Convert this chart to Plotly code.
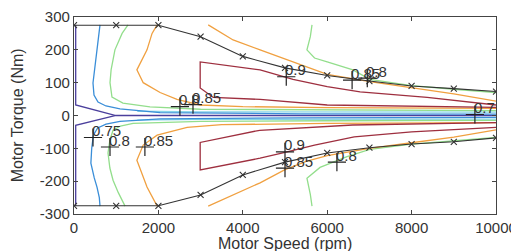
import plotly.graph_objects as go

# ---- data ----
speed_env = [0, 1000, 2000, 3000, 4000, 5000, 6000, 7000, 8000, 9000, 10000]
torque_env_up = [275, 275, 275, 240, 180, 145, 122, 105, 90, 82, 73]
torque_env_dn = [-275, -275, -275, -242, -181, -142, -114, -98, -87, -80, -68]

# contour lines (speed, torque), one list pair per branch
c070_up_x = [40, 40, 970, 10000]
c070_up_y = [276, 32, 0.6, 0.6]
c070_dn_x = [40, 40, 970, 10000]
c070_dn_y = [-276, -30, -0.6, -0.6]

c075_up_x = [616, 569, 521, 470, 450, 474, 569, 758, 1090, 2040, 5360, 10000]
c075_up_y = [276, 230, 169, 120, 99, 62, 41, 29, 20, 9, 5, 4]
c075_dn_x = [616, 600, 545, 480, 400, 420, 460, 560, 760, 1090, 2040, 5360, 10000]
c075_dn_y = [-276, -250, -218, -190, -145, -100, -60, -38, -26, -18, -10, -7, -6]

c077_up_x = [1500, 3000, 10000]
c077_up_y = [13, 11, 10]
c077_dn_x = [1500, 3000, 10000]
c077_dn_y = [-14, -12, -11]

c080_upl_x = [1280, 1140, 970, 880, 853, 900, 1160, 1800, 3000, 6000, 10000]
c080_upl_y = [276, 250, 200, 140, 100, 56, 38, 26, 19, 17, 15]
c080_upr_x = [5640, 5600, 5520, 5700, 6000, 6610, 7010, 8000, 9000, 10000]
c080_upr_y = [276, 240, 200, 175, 163, 139, 110, 91, 80, 70]
c080_dnl_x = [1210, 1050, 925, 850, 806, 850, 925, 1100, 1400, 3000, 6000, 10000]
c080_dnl_y = [-276, -235, -197, -160, -114, -75, -45, -32, -24, -18, -16, -15]
c080_dnr_x = [5640, 5600, 5520, 5830, 6470, 7010, 8000, 9000, 10000]
c080_dnr_y = [-276, -240, -191, -158, -125, -103, -87, -78, -67]

c085_upl_x = [1970, 1850, 1730, 1490, 1640, 2040, 2440, 2990, 4000, 6000, 10000]
c085_upl_y = [276, 250, 200, 139, 100, 70, 49, 32, 27, 24, 22]
c085_upr_x = [3180, 3770, 4410, 5190, 6000, 7010, 8000, 9000, 10000]
c085_upr_y = [276, 230, 200, 163, 125, 103, 84, 66, 44]
c085_dnl_x = [1970, 1850, 1730, 1490, 1640, 1970, 2680, 3500, 6000, 10000]
c085_dnl_y = [-276, -245, -218, -136, -90, -60, -36, -28, -24, -22]
c085_dnr_x = [3180, 3770, 4410, 5000, 5500, 6000, 7000, 8000, 9000, 10000]
c085_dnr_y = [-276, -242, -205, -165, -140, -122, -100, -83, -66, -44]

c090_up_x = [10000, 6000, 4410, 3300, 2990, 2990, 4410, 5190, 6000, 6780, 8370, 10000]
c090_up_y = [25, 32, 49, 55, 84, 163, 139, 110, 88, 72, 55, 32]
c090_dn_x = [10000, 6600, 4400, 3300, 2990, 2990, 4410, 5000, 5700, 6640, 8000, 10000]
c090_dn_y = [-22, -29, -45, -75, -82, -166, -130, -112, -90, -65, -50, -36]

label_text = ["0.75", "0.8", "0.85", "0.8", "0.85", "0.9", "0.85", "0.8", "0.7", "0.9", "0.85", "0.8"]
label_x = [450, 853, 1680, 2510, 2820, 5030, 6590, 6950, 9500, 5000, 5000, 6230]
label_y = [-67, -96, -96, 27, 33, 118, 108, 114, 3, -111, -160, -142]

x_ticks = [0, 2000, 4000, 6000, 8000, 10000]
x_tick_labels = ["0", "2000", "4000", "6000", "8000", "10000"]
y_ticks = [-300, -200, -100, 0, 100, 200, 300]
y_tick_labels = ["-300", "-200", "-100", "0", "100", "200", "300"]

# ---- figure ----
COL = {
    "070": "#4b3f9c",
    "075": "#3a8ed8",
    "077": "#86d4e8",
    "080": "#93de8c",
    "085": "#f0a040",
    "090": "#9e2f3f",
}

fig = go.Figure()

def add_line(xs, ys, color, width=1.3):
    fig.add_trace(go.Scatter(x=xs, y=ys, mode="lines",
                             line=dict(color=color, width=width),
                             showlegend=False, hoverinfo="skip"))

add_line(c070_up_x, c070_up_y, COL["070"])
add_line(c070_dn_x, c070_dn_y, COL["070"])
add_line(c077_up_x, c077_up_y, COL["077"])
add_line(c077_dn_x, c077_dn_y, COL["077"])
add_line(c075_up_x, c075_up_y, COL["075"])
add_line(c075_dn_x, c075_dn_y, COL["075"])
for xs, ys in [(c080_upl_x, c080_upl_y), (c080_upr_x, c080_upr_y),
               (c080_dnl_x, c080_dnl_y), (c080_dnr_x, c080_dnr_y)]:
    add_line(xs, ys, COL["080"])
for xs, ys in [(c085_upl_x, c085_upl_y), (c085_upr_x, c085_upr_y),
               (c085_dnl_x, c085_dnl_y), (c085_dnr_x, c085_dnr_y)]:
    add_line(xs, ys, COL["085"])
add_line(c090_up_x, c090_up_y, COL["090"])
add_line(c090_dn_x, c090_dn_y, COL["090"])

for ty in (torque_env_up, torque_env_dn):
    fig.add_trace(go.Scatter(x=speed_env, y=ty, mode="lines+markers",
                             line=dict(color="#333333", width=1.1),
                             marker=dict(symbol="x-thin", size=6,
                                         line=dict(color="#333333", width=1.1)),
                             showlegend=False, hoverinfo="skip"))

fig.add_trace(go.Scatter(x=label_x, y=label_y, mode="markers",
                         marker=dict(symbol="cross-thin", size=13,
                                     line=dict(color="#222222", width=1.2)),
                         showlegend=False, hoverinfo="skip"))

for t, lx, ly in zip(label_text, label_x, label_y):
    fig.add_annotation(x=lx, y=ly, text=t, showarrow=False,
                       xanchor="left", yanchor="middle", xshift=-3, yshift=7,
                       font=dict(size=15, color="#333333"))

axis_common = dict(showline=True, linecolor="#444444", linewidth=1.2,
                   mirror="ticks", ticks="inside", ticklen=4,
                   tickcolor="#444444", showgrid=False, zeroline=False,
                   tickfont=dict(size=15, color="#333333"))

fig.update_xaxes(range=[0, 10000], tickvals=x_ticks, ticktext=x_tick_labels,
                 **axis_common)
fig.update_yaxes(range=[-300, 300], tickvals=y_ticks, ticktext=y_tick_labels,
                 **axis_common)

fig.add_annotation(text="Motor Speed (rpm)", xref="paper", yref="paper",
                   x=0.5, y=-0.15, xanchor="center", yanchor="middle",
                   showarrow=False, font=dict(size=16, color="#333333"))
fig.add_annotation(text="Motor Torque (Nm)", xref="paper", yref="paper",
                   x=-0.133, y=0.5, xanchor="center", yanchor="middle",
                   textangle=-90, showarrow=False,
                   font=dict(size=16, color="#333333"))

# page body has an 8px margin, so the figure is sized to fit the 519x251 window
fig.update_layout(width=511, height=243,
                  margin=dict(l=66, r=23, t=9, b=37, autoexpand=False),
                  plot_bgcolor="white", paper_bgcolor="white",
                  font=dict(family="Liberation Sans, Arial, sans-serif"))

fig.write_html("out.html")
